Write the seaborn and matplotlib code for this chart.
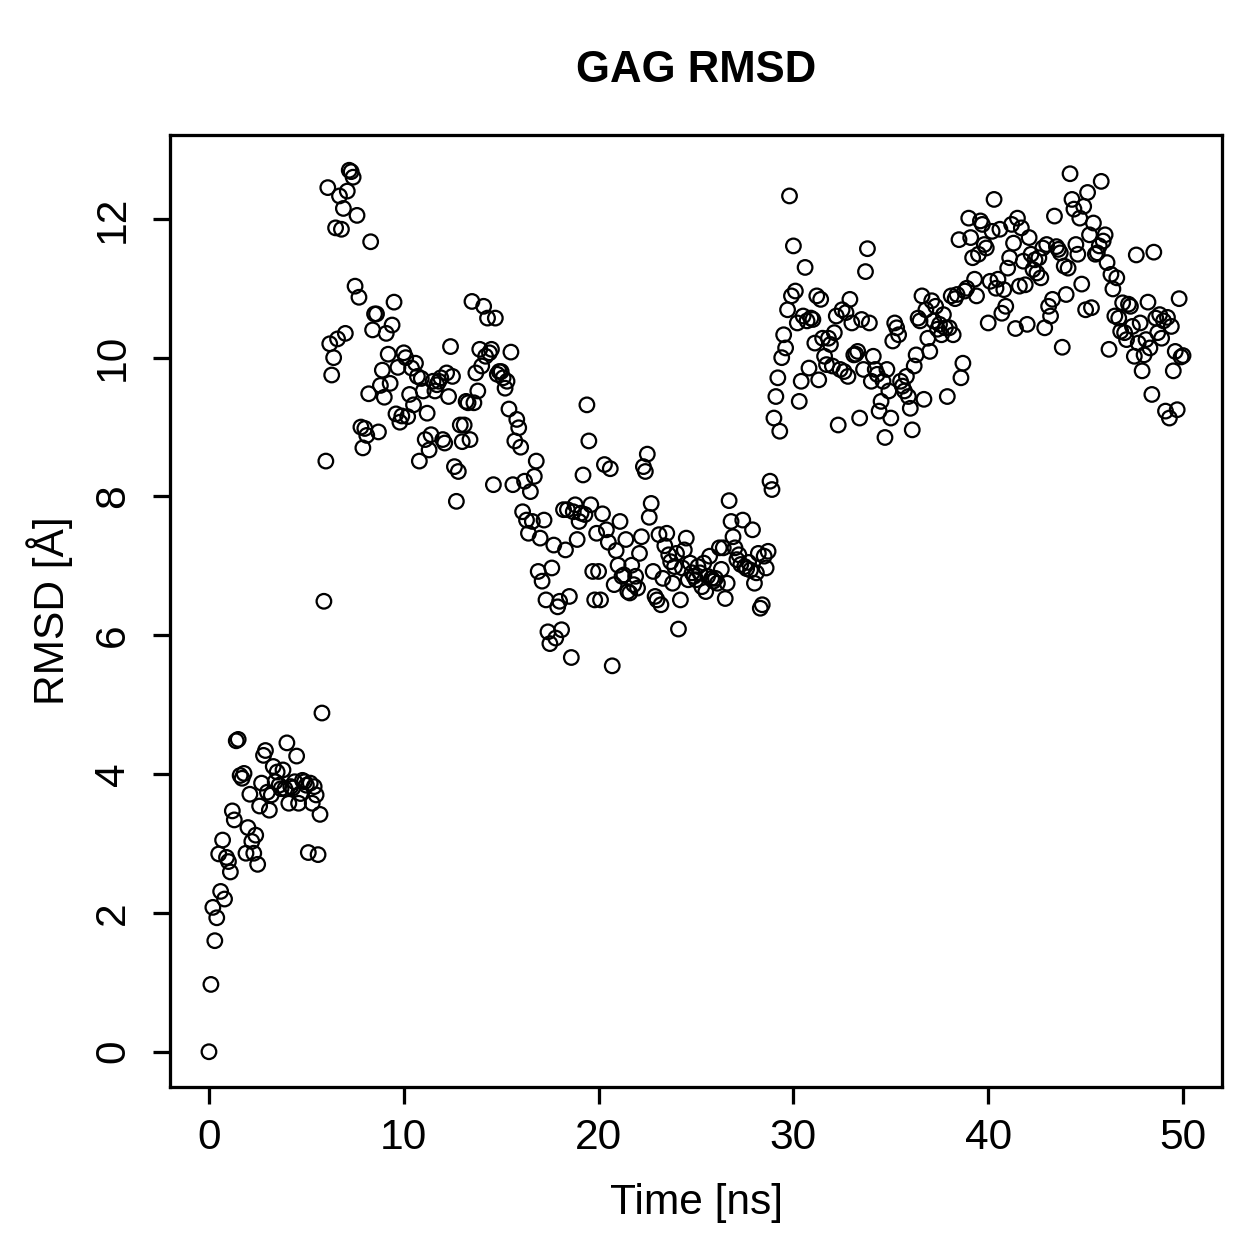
import numpy as np
import pandas as pd
import matplotlib
matplotlib.use("Agg")
import matplotlib.pyplot as plt
import seaborn as sns

# RMSD values, one row of 10 frames per ns (0.1 ns steps)
rmsd_by_ns = [
    [0.0, 0.97, 2.08, 1.6, 1.93, 2.85, 2.31, 3.05, 2.2, 2.8],          # 0
    [2.74, 2.59, 3.47, 3.34, 4.48, 4.5, 3.98, 3.94, 4.01, 2.86],       # 1
    [3.23, 3.71, 3.03, 2.86, 3.12, 2.7, 3.54, 3.87, 4.27, 4.34],       # 2
    [3.74, 3.48, 3.7, 4.11, 3.89, 4.03, 3.84, 3.79, 4.06, 3.79],       # 3
    [4.45, 3.58, 3.82, 3.8, 3.89, 4.26, 3.58, 3.72, 3.91, 3.89],       # 4
    [3.84, 2.87, 3.87, 3.58, 3.82, 3.7, 2.84, 3.42, 4.88, 6.49],       # 5
    [8.51, 12.45, 10.2, 9.75, 10.0, 11.87, 10.27, 12.33, 11.85, 12.15],  # 6
    [10.35, 12.4, 12.7, 12.68, 12.6, 11.03, 12.05, 10.87, 9.0, 8.7],   # 7
    [8.98, 8.88, 9.48, 11.67, 10.4, 10.63, 10.63, 8.93, 9.6, 9.82],    # 8
    [9.43, 10.35, 10.05, 9.63, 10.47, 10.8, 9.19, 9.86, 9.07, 9.16],   # 9
    [10.07, 10.0, 9.15, 9.47, 9.85, 9.32, 9.92, 9.73, 8.51, 9.7],      # 10
    [9.52, 8.82, 9.2, 8.67, 8.89, 9.66, 9.52, 9.61, 9.66, 9.71],       # 11
    [8.82, 8.77, 9.78, 9.44, 10.16, 9.73, 8.43, 7.93, 8.36, 9.03],     # 12
    [8.79, 9.03, 9.37, 9.35, 8.82, 10.81, 9.35, 9.78, 9.52, 10.12],    # 13
    [9.88, 10.74, 10.02, 10.57, 10.07, 10.12, 8.17, 10.57, 9.76, 9.8], # 14
    [9.8, 9.71, 9.56, 9.66, 9.26, 10.08, 8.17, 8.8, 9.11, 8.99],       # 15
    [8.71, 7.78, 8.22, 7.66, 7.47, 8.07, 7.64, 8.29, 8.51, 6.92],      # 16
    [7.4, 6.78, 7.66, 6.51, 6.05, 5.88, 6.97, 7.3, 5.96, 6.41],        # 17
    [6.49, 6.08, 7.81, 7.23, 7.81, 6.56, 5.68, 7.78, 7.88, 7.38],      # 18
    [7.64, 7.76, 8.31, 7.74, 9.32, 8.8, 7.88, 6.92, 6.51, 7.47],       # 19
    [6.92, 6.51, 7.75, 8.46, 7.52, 7.34, 8.4, 5.56, 6.73, 7.22],       # 20
    [7.01, 7.64, 6.85, 6.87, 7.38, 6.63, 6.61, 7.01, 6.73, 6.85],      # 21
    [6.68, 7.18, 7.42, 8.43, 8.36, 8.61, 7.7, 7.9, 6.92, 6.56],        # 22
    [6.51, 7.45, 6.44, 6.82, 7.29, 7.47, 7.16, 7.06, 6.75, 6.99],      # 23
    [7.18, 6.09, 6.51, 6.97, 7.23, 7.4, 6.8, 7.04, 6.9, 6.85],         # 24
    [6.8, 6.99, 6.9, 6.7, 7.04, 6.63, 6.85, 7.14, 6.82, 6.78],         # 25
    [6.82, 6.75, 7.26, 6.95, 7.26, 6.53, 6.75, 7.94, 7.64, 7.42],      # 26
    [7.26, 7.09, 7.16, 7.02, 7.66, 6.99, 6.96, 7.05, 6.94, 7.52],      # 27
    [6.75, 6.9, 7.18, 6.39, 6.44, 7.14, 6.97, 7.21, 8.22, 8.1],        # 28
    [9.13, 9.44, 9.71, 8.94, 10.0, 10.33, 10.14, 10.69, 12.33, 10.89], # 29
    [11.61, 10.96, 10.5, 9.37, 9.66, 10.6, 11.3, 10.53, 9.85, 10.57],  # 30
    [10.55, 10.21, 10.89, 9.68, 10.84, 10.28, 10.02, 9.9, 10.28, 10.19],  # 31
    [9.88, 10.36, 10.6, 9.03, 9.83, 10.69, 9.8, 10.65, 9.73, 10.84],   # 32
    [10.5, 10.04, 10.05, 10.09, 9.13, 10.55, 9.83, 11.24, 11.57, 10.5],  # 33
    [9.66, 10.02, 9.83, 9.76, 9.23, 9.37, 9.66, 8.85, 9.83, 9.52],     # 34
    [9.13, 10.24, 10.5, 10.43, 10.33, 9.66, 9.59, 9.52, 9.73, 9.44],   # 35
    [9.27, 8.96, 9.88, 10.04, 10.57, 10.53, 10.89, 9.4, 10.69, 10.28], # 36
    [10.09, 10.82, 10.53, 10.74, 10.41, 10.48, 10.33, 10.62, 10.43, 9.44],  # 37
    [10.43, 10.89, 10.33, 10.85, 10.91, 11.7, 9.71, 9.92, 10.96, 11.0],  # 38
    [12.01, 11.73, 11.44, 11.13, 10.89, 11.49, 11.97, 11.92, 11.63, 11.58],  # 39
    [10.5, 11.1, 11.82, 12.28, 11.0, 11.13, 11.85, 10.64, 10.98, 10.74],  # 40
    [11.29, 11.44, 11.92, 11.65, 10.42, 12.01, 11.03, 11.87, 11.39, 11.05],  # 41
    [10.48, 11.73, 11.49, 11.27, 11.41, 11.22, 11.44, 11.15, 11.58, 10.43],  # 42
    [11.63, 10.74, 10.6, 10.84, 12.04, 11.6, 11.56, 11.51, 10.15, 11.32],  # 43
    [10.91, 11.29, 12.65, 12.28, 12.14, 11.63, 11.49, 12.01, 11.06, 12.18],  # 44
    [10.69, 12.38, 11.77, 10.72, 11.94, 11.49, 11.51, 11.61, 12.54, 11.68],  # 45
    [11.77, 11.37, 10.12, 11.2, 10.99, 10.6, 11.15, 10.57, 10.38, 10.79],  # 46
    [10.36, 10.26, 10.77, 10.74, 10.45, 10.02, 11.48, 10.21, 10.5, 9.81],  # 47
    [10.04, 10.26, 10.8, 10.14, 9.47, 11.52, 10.57, 10.36, 10.62, 10.28],  # 48
    [10.53, 9.23, 10.58, 9.13, 10.45, 9.81, 10.09, 9.25, 10.85, 10.01],  # 49
    [10.03],                                                            # 50
]
frame_step_ns = 0.1

title = "GAG RMSD"
x_label = "Time [ns]"
y_label = "RMSD [Å]"
x_ticks = [0, 10, 20, 30, 40, 50]
y_ticks = [0, 2, 4, 6, 8, 10, 12]

rmsd = [v for row in rmsd_by_ns for v in row]
df = pd.DataFrame({
    "time": np.round(np.arange(len(rmsd)) * frame_step_ns, 1),
    "rmsd": rmsd,
})

sns.set_theme(style="white")
plt.rcParams.update({
    "font.family": ["Liberation Sans", "DejaVu Sans"],
    "text.color": "black",
    "axes.labelcolor": "black",
    "xtick.color": "black",
    "ytick.color": "black",
    "axes.edgecolor": "black",
    "axes.linewidth": 1.3,
    "xtick.major.width": 1.3,
    "ytick.major.width": 1.3,
    "xtick.major.size": 6.8,
    "ytick.major.size": 6.8,
    "xtick.direction": "out",
    "ytick.direction": "out",
})

W = H = 1259
fig = plt.figure(figsize=(W / 180, H / 180), dpi=180)
ax = fig.add_axes([170 / W, 1 - 1087 / H, (1222 - 170) / W, (1087 - 135) / H])

sns.scatterplot(data=df, x="time", y="rmsd", ax=ax, marker="o", s=34,
                facecolors="none", edgecolor="black", linewidth=0.9,
                legend=False)

# R-style 4% padding around the data range
xr = df["time"].max() - df["time"].min()
yr = df["rmsd"].max() - df["rmsd"].min()
ax.set_xlim(df["time"].min() - 0.04 * xr, df["time"].max() + 0.04 * xr)
ax.set_ylim(df["rmsd"].min() - 0.04 * yr, df["rmsd"].max() + 0.04 * yr)

ax.set_xticks(x_ticks)
ax.set_yticks(y_ticks)
ax.tick_params(axis="x", labelsize=17, pad=5.5, bottom=True)
ax.tick_params(axis="y", labelsize=17, pad=8, left=True)
for lbl in ax.get_yticklabels():
    lbl.set_rotation(90)
    lbl.set_va("center")
ax.set_xlabel("")
ax.set_ylabel("")

cx = (170 + 1222) / 2 / W
fig.text(cx, 1 - 70 / H, title, ha="center", va="center",
         fontsize=17.5, fontweight="bold")
fig.text(cx, 1 - 1203 / H, x_label, ha="center", va="center", fontsize=17)
fig.text(50 / W, 1 - 611 / H, y_label, ha="center", va="center",
         rotation=90, fontsize=17)

fig.savefig("out.png", dpi=180, facecolor="white")
